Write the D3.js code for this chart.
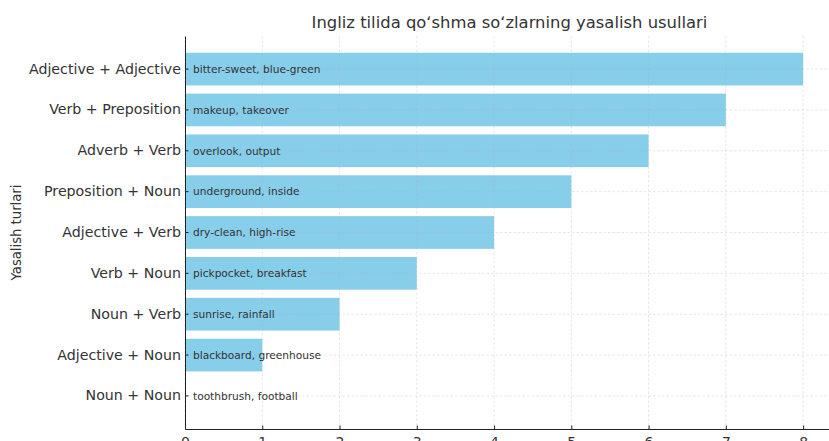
<!DOCTYPE html>
<html>
<head>
<meta charset="utf-8">
<script src="https://cdn.jsdelivr.net/npm/d3@7"></script>
<style>
  body { margin: 0; background: #fff; }
  svg { font-family: "DejaVu Sans", sans-serif; }
</style>
</head>
<body>
<div id="chart"></div>
<script>
const categories = ["Adjective + Adjective", "Verb + Preposition", "Adverb + Verb", "Preposition + Noun",
    "Adjective + Verb", "Verb + Noun", "Noun + Verb", "Adjective + Noun", "Noun + Noun"];
const values = [8, 7, 6, 5, 4, 3, 2, 1, 0];
const examples = ["bitter-sweet, blue-green", "makeup, takeover", "overlook, output", "underground, inside",
    "dry-clean, high-rise", "pickpocket, breakfast", "sunrise, rainfall", "blackboard, greenhouse", "toothbrush, football"];
const xTicks = [0, 1, 2, 3, 4, 5, 6, 7, 8];

const data = categories.map((c, i) => ({ cat: c, value: values[i], ex: examples[i] }));

const W = 829, H = 441;
const plotLeft = 185, plotRight = 834, plotTop = 36, plotBottom = 429;

const svg = d3.select("#chart").append("svg")
    .attr("width", W)
    .attr("height", H);

const x = d3.scaleLinear().domain([0, 8.4]).range([plotLeft, plotRight]);
const y = d3.scaleBand().domain(categories).range([plotTop, plotBottom])
    .paddingInner(0.2).paddingOuter(0.41);

// bars
svg.selectAll(".bar")
    .data(data)
    .enter()
    .append("rect")
    .attr("class", "bar")
    .attr("x", x(0))
    .attr("y", d => y(d.cat))
    .attr("width", d => x(d.value) - x(0))
    .attr("height", y.bandwidth())
    .attr("fill", "#87CEEB");

// grid (drawn over bars, faint)
const grid = svg.append("g").attr("stroke", "#b0b0b0").attr("stroke-opacity", 0.4)
    .attr("stroke-dasharray", "2.5,2").attr("stroke-width", 0.8);
grid.selectAll(".vg").data(xTicks).enter().append("line")
    .attr("x1", d => x(d)).attr("x2", d => x(d))
    .attr("y1", plotTop).attr("y2", plotBottom);
grid.selectAll(".hg").data(categories).enter().append("line")
    .attr("x1", plotLeft).attr("x2", plotRight)
    .attr("y1", d => y(d) + y.bandwidth() / 2).attr("y2", d => y(d) + y.bandwidth() / 2);

// example labels
svg.selectAll(".label")
    .data(data)
    .enter()
    .append("text")
    .attr("class", "label")
    .attr("x", x(0) + 8)
    .attr("y", d => y(d.cat) + y.bandwidth() / 2)
    .attr("dy", "0.35em")
    .attr("font-size", "10.6px")
    .attr("fill", "#333")
    .text(d => d.ex);

// axes
const xAxis = svg.append("g")
    .attr("transform", `translate(0,${plotBottom})`)
    .call(d3.axisBottom(x).tickValues(xTicks).tickSizeInner(-3.5).tickSizeOuter(0).tickPadding(8).tickFormat(d3.format("d")));
xAxis.select(".domain").attr("stroke", "#222").attr("stroke-width", 1);
xAxis.selectAll(".tick line").attr("stroke", "#222");
xAxis.selectAll("text").attr("font-size", "14px").attr("fill", "#333").attr("font-family", "DejaVu Sans");

const yAxis = svg.append("g")
    .attr("transform", `translate(${plotLeft},0)`)
    .call(d3.axisLeft(y).tickSizeInner(-3.5).tickSizeOuter(0).tickPadding(4));
yAxis.select(".domain").attr("stroke", "#222").attr("stroke-width", 1);
yAxis.selectAll(".tick line").attr("stroke", "#222");
yAxis.selectAll("text").attr("font-size", "14.2px").attr("fill", "#333").attr("font-family", "DejaVu Sans");

// title
svg.append("text")
    .attr("x", (plotLeft + plotRight) / 2)
    .attr("y", 28)
    .attr("text-anchor", "middle")
    .attr("font-size", "16.4px")
    .attr("fill", "#333")
    .text("Ingliz tilida qoʻshma soʻzlarning yasalish usullari");

// y label
svg.append("text")
    .attr("transform", `translate(21,${(plotTop + plotBottom) / 2}) rotate(-90)`)
    .attr("text-anchor", "middle")
    .attr("font-size", "13.2px")
    .attr("fill", "#333")
    .text("Yasalish turlari");
</script>
</body>
</html>
